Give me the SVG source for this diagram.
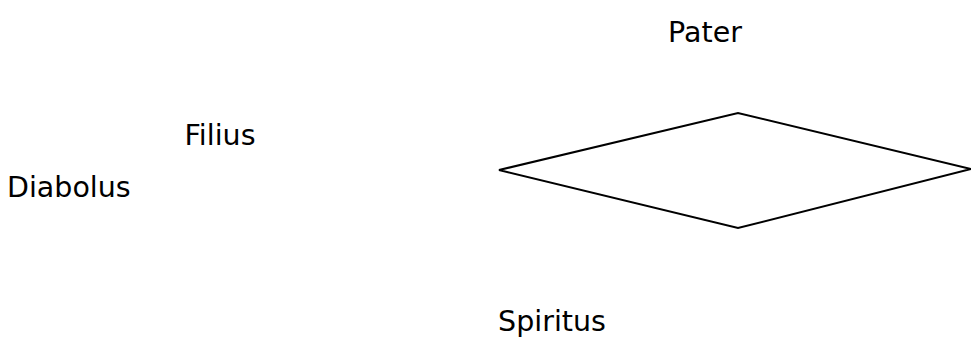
<svg xmlns="http://www.w3.org/2000/svg" width="971" height="360" viewBox="0 0 971 360">
<style>
.lbl{font-family:"DejaVu Sans","Liberation Sans",sans-serif;font-size:28.5px;fill:#000}
.shape{fill:none;stroke:#000;stroke-width:2}
</style>
<rect width="971" height="360" fill="#fff"/>
<g id="pater"><text class="lbl" x="705" y="42" text-anchor="middle">Pater</text></g>
<g id="filius"><text class="lbl" x="220" y="145" text-anchor="middle">Filius</text></g>
<g id="diabolus"><text class="lbl" x="7" y="197">Diabolus</text></g>
<g id="spiritus"><text class="lbl" x="552" y="331" text-anchor="middle">Spiritus</text></g>
<g id="diamond"><polygon class="shape" points="499,170 738,113 971,169 738,228"/></g>
<g id="connectors"></g>
</svg>
